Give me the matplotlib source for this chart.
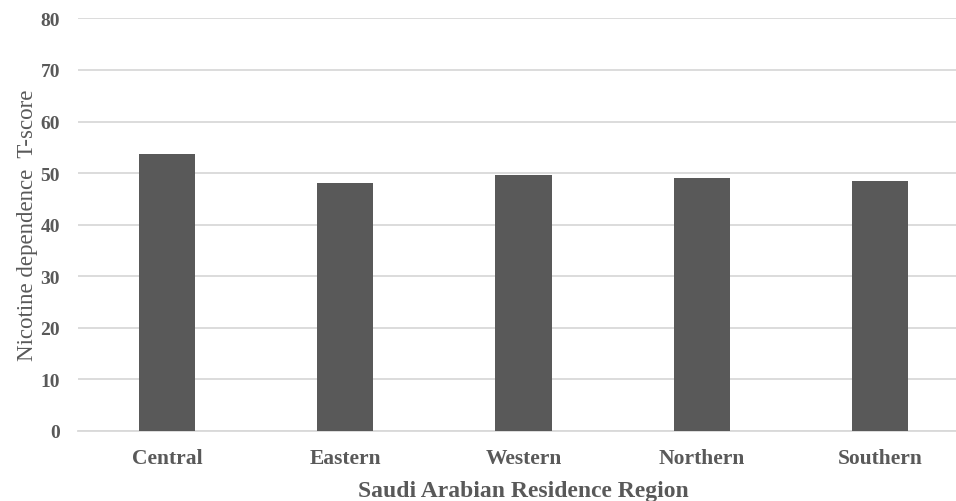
import matplotlib.pyplot as plt

regions = ["Central", "Eastern", "Western", "Northern", "Southern"]
t_scores = [53.7, 48.1, 49.7, 49.0, 48.4]
y_ticks = [0, 10, 20, 30, 40, 50, 60, 70, 80]

plt.rcParams['font.family'] = ['Liberation Serif', 'DejaVu Serif']

fig = plt.figure(figsize=(9.56, 5.02), dpi=100)
ax = fig.add_axes([78 / 956, 70 / 502, 891 / 956, 412.6 / 502])

ax.bar(regions, t_scores, width=0.315, color='#595959', zorder=3)

ax.set_ylim(0, 80)
ax.set_xlim(-0.5, len(regions) - 0.5)
ax.set_yticks(y_ticks)
ax.grid(axis='y', color='#d9d9d9', linewidth=1.3, zorder=0)

for s in ['top', 'right', 'left']:
    ax.spines[s].set_visible(False)
ax.spines['bottom'].set_color('#d9d9d9')
ax.spines['bottom'].set_linewidth(1.3)

ax.tick_params(axis='both', length=0, labelcolor='#595959')
ax.tick_params(axis='y', pad=13, labelsize=14)
ax.tick_params(axis='x', pad=12, labelsize=15.5)
for lbl in ax.get_xticklabels() + ax.get_yticklabels():
    lbl.set_fontweight('bold')

ax.set_ylabel('Nicotine dependence  T-score', fontsize=16.5, color='#595959', labelpad=2)
ax.set_xlabel('Saudi Arabian Residence Region', fontsize=17, color='#595959',
              fontweight='bold', labelpad=9)

fig.savefig('out.png', dpi=100)
